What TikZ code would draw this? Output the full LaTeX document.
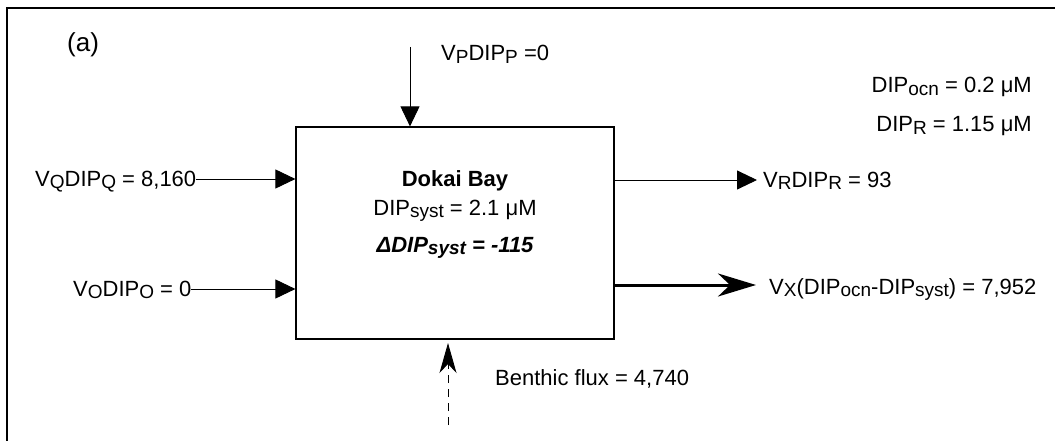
\documentclass[tikz,border=0pt]{standalone}
\usepackage{fontspec}
\setmainfont{Liberation Sans}
\usetikzlibrary{arrows.meta}
\newcommand\sbs[1]{\raisebox{-0.1em}{\fontsize{19}{19}\selectfont #1}}
\tikzset{
  lbl/.style={inner sep=0pt, font=\fontsize{22}{24}\selectfont},
  thin/.style={line width=0.9pt},
  tri/.style={thin, -{Triangle[length=20pt,width=19pt]}},
  thickarr/.style={line width=3pt, -{Stealth[length=38pt,width=23pt,inset=12pt]}},
  benth/.style={line width=0.9pt, dash pattern=on 8pt off 6pt, -{Stealth[length=30pt,width=17pt,inset=9pt]}},
  bay/.style={draw, line width=1.2pt, minimum width=318pt, minimum height=212pt, inner sep=0pt}
}
\begin{document}
\begin{tikzpicture}[x=1pt,y=-1pt]
\useasboundingbox (0,0) rectangle (1055,441);
\draw[line width=2.5pt] (7,441) -- (7,8) -- (1055,8);

\node[bay] (box) at (455,233) {};

\node[lbl, font=\fontsize{26}{28}\selectfont, anchor=west] (a) at (67,45) {(a)};

\node[lbl, font=\fontsize{22}{24}\selectfont\bfseries, anchor=base] (name) at (455,186) {Dokai Bay};
\node[lbl, anchor=base] (syst) at (455,215) {DIP\sbs{syst} = 2.1 μM};
\node[lbl, font=\fontsize{22}{24}\selectfont\bfseries\itshape, anchor=base] (delta) at (455,252) {ΔDIP\sbs{syst} = -115};

\node[lbl, anchor=base west] (p) at (441,61) {V\sbs{P}DIP\sbs{P} =0};
\coordinate (ptop) at (410,47);
\draw[tri] (ptop) -- (ptop |- box.north);

\node[lbl, anchor=base east] (ocn) at (1032,93) {DIP\sbs{ocn} = 0.2 μM};
\node[lbl, anchor=base east] (dipr) at (1032,132) {DIP\sbs{R} = 1.15 μM};

\node[lbl, anchor=base west] (q) at (35,186) {V\sbs{Q}DIP\sbs{Q} = 8,160};
\coordinate (qs) at (196,179);
\draw[tri] (qs) -- (qs -| box.west);

\node[lbl, anchor=base west] (o) at (73,296) {V\sbs{O}DIP\sbs{O} = 0};
\coordinate (os) at (191,289);
\draw[tri] (os) -- (os -| box.west);

\node[lbl, anchor=base west] (r) at (763,187) {V\sbs{R}DIP\sbs{R} = 93};
\coordinate (rs) at (614,180);
\coordinate (re) at (757,180);
\draw[tri] (rs) -- (re);

\node[lbl, anchor=base west] (x) at (769,294) {V\sbs{X}(DIP\sbs{ocn}-DIP\sbs{syst}) = 7,952};
\coordinate (xs) at (614,285);
\coordinate (xe) at (756,285);
\draw[thickarr] (xs) -- (xe);

\node[lbl, anchor=base west] (b) at (495,385) {Benthic flux = 4,740};
\coordinate (bs) at (448,425);
\draw[benth] (bs) -- (448,343);
\end{tikzpicture}
\end{document}
